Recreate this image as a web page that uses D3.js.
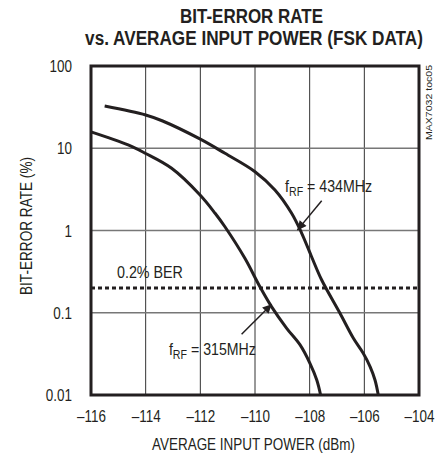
<!DOCTYPE html>
<html><head><meta charset="utf-8">
<script src="https://cdn.jsdelivr.net/npm/d3@7"></script>
<style>
body{margin:0;background:#fff;}
text{font-family:"Liberation Sans",Arial,sans-serif;fill:#231f20;}
</style></head><body>
<svg id="c" width="446" height="456"></svg>
<script>
const xTicks = [-116,-114,-112,-110,-108,-106,-104];
const yTicks = [0.01,0.1,1,10,100];
const yTickLabels = ["0.01","0.1","1","10","100"];
const f434_x = [-115.5,-114.0,-113.4,-112.0,-111.1,-110.0,-109.27,-108.66,-108.29,-107.93,-107.56,-106.89,-106.40,-106.04,-105.79,-105.61,-105.49];
const f434_y = [32.6,25.4,21.6,12.9,8.68,5.19,3.11,1.62,0.924,0.48,0.25,0.0985,0.0489,0.0321,0.0221,0.0152,0.01];
const f315_x = [-116,-114.64,-114.02,-113.05,-112.01,-111.46,-111.1,-110.37,-109.82,-109.39,-108.84,-108.35,-107.99,-107.74,-107.6];
const f315_y = [15.8,10.96,8.7,5.7,2.70,1.62,1.11,0.459,0.207,0.118,0.0647,0.0406,0.0243,0.0152,0.01];
const berLevel = 0.2;
const titleLines = ["BIT-ERROR RATE","vs. AVERAGE INPUT POWER (FSK DATA)"];
const xTitle = "AVERAGE INPUT POWER (dBm)";
const yTitle = "BIT-ERROR RATE (%)";
const sideNote = "MAX7032 toc05";
const berLabel = "0.2% BER";
const ann434 = {label:"434MHz", tx:-108.9, ty:2.96, ax:-107.56, ay:2.30, bx:-108.45, by:1.01};
const ann315 = {label:"315MHz", tx:-113.15, ty:0.0306, ax:-110.49, ay:0.0547, bx:-109.39, by:0.127};

const svg = d3.select("#c");
const L=91,R=419,T=66,B=395;
const x = d3.scaleLinear().domain([-116,-104]).range([L,R]);
const y = d3.scaleLog().domain([0.01,100]).range([B,T]);
const fitLen = (sel,w)=>sel.attr("textLength",w).attr("lengthAdjust","spacingAndGlyphs");
const condense = (sel,k)=>sel.each(function(){const n=this.getComputedTextLength();d3.select(this).attr("textLength",n*k).attr("lengthAdjust","spacingAndGlyphs");});
const squeeze = (t,cx,cy,w)=>{const k=w/t.node().getBBox().width;t.attr("transform",`translate(${cx},${cy}) scale(${k},1) translate(${-cx},${-cy})`);};

// title
const t1 = svg.append("text").attr("x",251.5).attr("y",23).attr("text-anchor","middle")
  .attr("font-size",19.5).attr("font-weight","bold").text(titleLines[0]);
squeeze(t1,251.5,23,143);
const t2 = svg.append("text").attr("x",254).attr("y",45.5).attr("text-anchor","middle")
  .attr("font-size",19.5).attr("font-weight","bold").text(titleLines[1]);
squeeze(t2,254,45.5,338);

// grid
const g = svg.append("g");
g.selectAll(".vg").data(xTicks.slice(1,-1)).enter().append("line")
  .attr("x1",d=>x(d)).attr("x2",d=>x(d)).attr("y1",T).attr("y2",B)
  .attr("stroke","#333").attr("stroke-width",1);
g.selectAll(".hg").data(yTicks.slice(1,-1)).enter().append("line")
  .attr("x1",L).attr("x2",R).attr("y1",d=>y(d)).attr("y2",d=>y(d))
  .attr("stroke","#777").attr("stroke-width",1.5);

// dashed BER line
g.append("line").attr("x1",L).attr("x2",R).attr("y1",y(berLevel)).attr("y2",y(berLevel))
  .attr("stroke","#231f20").attr("stroke-width",3).attr("stroke-dasharray","4,3");

// curves
const line = d3.line().x(d=>x(d[0])).y(d=>y(d[1])).curve(d3.curveCatmullRom.alpha(0.5));
[[f434_x,f434_y],[f315_x,f315_y]].forEach(([xs,ys])=>{
  g.append("path").attr("d",line(xs.map((v,i)=>[v,ys[i]])))
   .attr("fill","none").attr("stroke","#231f20").attr("stroke-width",3);
});

// frame
svg.append("rect").attr("x",L).attr("y",T).attr("width",R-L).attr("height",B-T)
  .attr("fill","none").attr("stroke","#231f20").attr("stroke-width",3);

// axes labels
const xAxis = d3.axisBottom(x).tickValues(xTicks).tickSize(0).tickFormat(d=>"\u2013"+Math.abs(d));
const xa = svg.append("g").attr("transform",`translate(0,${B})`).call(xAxis);
xa.select(".domain").remove();
xa.selectAll("text").attr("font-size",16).attr("dy",0).attr("y",27).attr("fill","#231f20")
  .style("font-family",'"Liberation Sans",Arial,sans-serif');
condense(xa.selectAll("text"),0.84);
const yAxis = d3.axisLeft(y).tickValues(yTicks).tickSize(0).tickFormat((d,i)=>yTickLabels[i]);
const ya = svg.append("g").attr("transform",`translate(${L},0)`).call(yAxis);
ya.select(".domain").remove();
ya.selectAll("text").attr("font-size",16).attr("x",-19).attr("dy","0.35em").attr("fill","#231f20")
  .style("font-family",'"Liberation Sans",Arial,sans-serif');
condense(ya.selectAll("text"),0.84);

fitLen(svg.append("text").attr("x",253.5).attr("y",450).attr("text-anchor","middle").attr("font-size",16).text(xTitle),203);
fitLen(svg.append("text").attr("transform","translate(32,226) rotate(-90)").attr("text-anchor","middle").attr("font-size",16).text(yTitle),138);
fitLen(svg.append("text").attr("transform","translate(432,102.5) rotate(-90)").attr("text-anchor","middle").attr("font-size",9.5).text(sideNote),75);

// BER label
fitLen(svg.append("text").attr("x",x(-115.05)).attr("y",y(0.267)).attr("font-size",16).text(berLabel),66);

// annotations
svg.append("defs").append("marker").attr("id","ah").attr("viewBox","0 0 10 10")
  .attr("refX",10).attr("refY",5).attr("markerWidth",11).attr("markerHeight",9)
  .attr("markerUnits","userSpaceOnUse").attr("orient","auto")
  .append("path").attr("d","M0,0L10,5L0,10Z").attr("fill","#231f20");
[ann434,ann315].forEach(a=>{
  svg.append("line").attr("x1",x(a.ax)).attr("y1",y(a.ay)).attr("x2",x(a.bx)).attr("y2",y(a.by))
    .attr("stroke","#231f20").attr("stroke-width",1.5).attr("marker-end","url(#ah)");
  const tx=x(a.tx), ty=y(a.ty);
  const t = svg.append("text").attr("x",tx).attr("y",ty).attr("font-size",16);
  t.append("tspan").text("f");
  t.append("tspan").attr("font-size",12).attr("dy",4).text("RF");
  t.append("tspan").attr("dy",-4).text(" = "+a.label);
  squeeze(t,tx,ty,87);
});
</script></body></html>
